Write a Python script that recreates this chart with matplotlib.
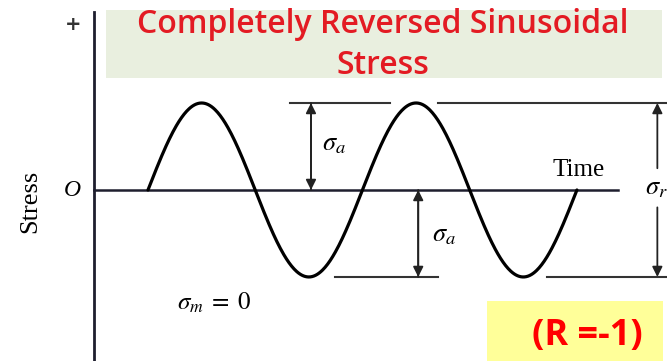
import numpy as np
import matplotlib.pyplot as plt
from matplotlib.patches import Rectangle

plt.rcParams["mathtext.fontset"] = "stix"

# cycle description: amplitude, mean, number of cycles drawn
sigma_a = 1.0
sigma_m = 0.0
n_cycles = 2

# horizontal amplitude guide segments (start, end in cycles)
upper_guides = [(0.66, 1.13), (1.35, 2.45)]
lower_guides = [(0.87, 1.35), (1.86, 2.45)]

title_lines = ["Completely Reversed Sinusoidal", "Stress"]
ratio_label = "(R =-1)"

T_AXIS = -0.252
T_LEFT, T_RIGHT = -0.690, 2.420
S_BOTTOM, S_TOP = -1.966, 2.184


def arrow(ax, t, s0, s1):
    """single-headed arrow drawn from s0 toward s1"""
    ax.annotate("", xy=(t, s1), xytext=(t, s0),
                arrowprops=dict(arrowstyle="-|>", color="#222222", lw=1.3,
                                mutation_scale=15, shrinkA=0, shrinkB=0))


def main():
    fig = plt.figure(figsize=(6.67, 3.61), dpi=100)
    ax = fig.add_axes([0, 0, 1, 1])
    ax.set_xlim(T_LEFT, T_RIGHT)
    ax.set_ylim(S_BOTTOM, S_TOP)
    ax.axis("off")

    # header and ratio boxes
    ax.add_patch(Rectangle((0.159, 0.784), 0.834, 0.188, transform=ax.transAxes,
                           facecolor="#e9efdf", edgecolor="none", zorder=0))
    ax.add_patch(Rectangle((0.730, 0.0), 0.264, 0.166, transform=ax.transAxes,
                           facecolor="#ffff99", edgecolor="none", zorder=0))
    for i, line in enumerate(title_lines):
        ax.text(0.574, 0.932 - i * 0.113, line, transform=ax.transAxes,
                ha="center", va="center", fontsize=23, color="#e31b23",
                family="Open Sans", fontweight="semibold")
    ax.text(0.880, 0.068, ratio_label, transform=ax.transAxes, ha="center",
            va="center", fontsize=26, color="#ff0000", family="Open Sans",
            fontweight="bold")

    # axes of the stress-time diagram
    ax.plot([T_AXIS, T_AXIS], [S_BOTTOM, 2.046], color="#1e1e2e", lw=2.0)
    ax.plot([T_AXIS, 2.19], [sigma_m, sigma_m], color="#1e1e2e", lw=1.8)

    # the stress history
    t = np.linspace(0, n_cycles, 500)
    stress = sigma_m + sigma_a * np.sin(2 * np.pi * t)
    ax.plot(t, stress, color="black", lw=2.3, solid_capstyle="round")

    for a, b in upper_guides:
        ax.plot([a, b], [sigma_m + sigma_a] * 2, color="#333333", lw=1.5)
    for a, b in lower_guides:
        ax.plot([a, b], [sigma_m - sigma_a] * 2, color="#333333", lw=1.5)

    arrow(ax, 0.76, sigma_m, sigma_m + sigma_a)
    arrow(ax, 0.76, sigma_m + sigma_a, sigma_m)
    arrow(ax, 1.26, sigma_m, sigma_m - sigma_a)
    arrow(ax, 1.26, sigma_m - sigma_a, sigma_m)
    arrow(ax, 2.375, 0.25, sigma_m + sigma_a)
    arrow(ax, 2.375, -0.20, sigma_m - sigma_a)

    serif = "Liberation Serif"
    ax.text(0.811, 0.54, r"$\sigma_a$", fontsize=19, ha="left", va="center")
    ax.text(1.324, -0.506, r"$\sigma_a$", fontsize=19, ha="left", va="center")
    ax.text(2.317, 0.034, r"$\sigma_r$", fontsize=19, ha="left", va="center")
    ax.text(0.135, -1.30, r"$\sigma_m\;=\;0$", fontsize=18, ha="left", va="center")
    ax.text(2.009, 0.23, "Time", fontsize=18, family=serif, ha="center", va="center")
    ax.text(-0.354, -0.01, "O", fontsize=17, family=serif, style="italic",
            ha="center", va="center")
    ax.text(-0.350, 1.90, "+", fontsize=14, family="DejaVu Sans", fontweight="bold",
            color="#333333", ha="center", va="center")
    ax.text(-0.550, -0.126, "Stress", fontsize=19, family=serif, rotation=90,
            ha="center", va="center")

    fig.savefig("out.png", dpi=100)


if __name__ == "__main__":
    main()
